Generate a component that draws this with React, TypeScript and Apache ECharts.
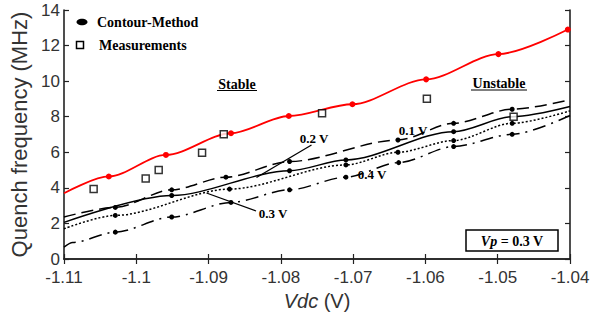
import React, { useEffect, useRef } from "react";
import * as echarts from "echarts";

// Axis ranges and tick labels
const xMin = -1.11;
const xMax = -1.04;
const xStep = 0.01;
const xTickLabels = ["-1.11", "-1.1", "-1.09", "-1.08", "-1.07", "-1.06", "-1.05", "-1.04"];
const yMin = 0;
const yMax = 14;
const yStep = 2;
const yTickLabels = ["0", "2", "4", "6", "8", "10", "12", "14"];

// Stability boundary (contour method, red)
const boundaryVdc = [-1.11, -1.1038, -1.0959, -1.0869, -1.0789, -1.0701, -1.0599, -1.0499, -1.0403];
const boundaryFreq = [3.7, 4.64, 5.85, 7.07, 8.04, 8.7, 10.1, 11.52, 12.9];
const boundaryComputed = [0, 1, 1, 1, 1, 1, 1, 1, 1];

// Measured quench frequencies
const measVdc = [-1.1059, -1.0987, -1.0969, -1.0909, -1.0879, -1.0743, -1.0598, -1.0478];
const measFreq = [3.93, 4.52, 5.01, 5.98, 7.01, 8.19, 9.01, 8.0];

// Contour-method curves for several Vp values
const vdc01 = [-1.11, -1.1029, -1.0951, -1.0876, -1.0788, -1.0638, -1.0561, -1.048, -1.04];
const freq01 = [2.36, 2.9, 3.89, 4.6, 5.48, 6.69, 7.63, 8.42, 8.95];
const computed01 = [0, 1, 1, 1, 1, 1, 1, 1, 0];

const vdc02 = [-1.11, -1.0951, -1.0788, -1.071, -1.0561, -1.048, -1.04];
const freq02 = [2.06, 3.57, 4.96, 5.57, 7.16, 8.0, 8.57];
const computed02 = [0, 1, 1, 1, 1, 0, 0];

const vdc03 = [-1.11, -1.1029, -1.0871, -1.071, -1.0638, -1.0561, -1.048, -1.04];
const freq03 = [1.7, 2.45, 3.93, 5.29, 6.0, 6.66, 7.63, 8.33];
const computed03 = [0, 1, 1, 1, 1, 1, 1, 0];

const vdc04 = [-1.11, -1.1088, -1.1029, -1.0951, -1.0869, -1.0788, -1.071, -1.0637, -1.0561, -1.048, -1.04];
const freq04 = [0.67, 0.93, 1.51, 2.36, 3.18, 3.89, 4.6, 5.42, 6.32, 7.01, 8.07];
const computed04 = [0, 0, 1, 1, 1, 1, 1, 1, 1, 1, 0];

const SERIF = '"Liberation Serif", "Times New Roman", serif';
const SANS = '"Liberation Sans", Arial, sans-serif';

function curveData(xs: number[], ys: number[], flags: number[]) {
  return xs.map((x, i) => ({
    value: [x, ys[i]],
    symbol: flags[i] ? "circle" : "none",
  }));
}

function curveSeries(
  name: string,
  xs: number[],
  ys: number[],
  flags: number[],
  dash: number[] | "solid"
) {
  return {
    name,
    type: "line",
    data: curveData(xs, ys, flags),
    smooth: 0.3,
    smoothMonotone: "x",
    symbolSize: 5,
    itemStyle: { color: "#000" },
    lineStyle: { color: "#000", width: 1.5, type: dash },
    z: 3,
  };
}

function label(text: string, x: number, y: number, size: number, align = "center") {
  return {
    type: "text",
    x,
    y,
    style: { text, font: `bold ${size}px ${SERIF}`, fill: "#000", align, verticalAlign: "middle" },
    z: 10,
  };
}

export default function App() {
  const ref = useRef<HTMLDivElement>(null);

  useEffect(() => {
    if (!ref.current) return;
    const chart = echarts.init(ref.current, null, { renderer: "svg" });

    const xFmt = (v: number) => xTickLabels[Math.round((v - xMin) / xStep)] ?? "";
    const yFmt = (v: number) => yTickLabels[Math.round((v - yMin) / yStep)] ?? "";

    const axisLine = { show: true, lineStyle: { color: "#222", width: 1.6 } };
    const axisTick = { show: true, inside: true, length: 5, lineStyle: { color: "#222", width: 1.2 } };

    chart.setOption({
      animation: false,
      backgroundColor: "#fff",
      grid: { left: 58, top: 10, right: 26, bottom: 70, containLabel: false },
      xAxis: [
        {
          type: "value",
          min: xMin,
          max: xMax,
          interval: xStep,
          axisLine,
          axisTick,
          splitLine: { show: false },
          axisLabel: {
            formatter: xFmt,
            color: "#333",
            fontSize: 17,
            fontFamily: SANS,
            margin: 10,
          },
          name: "{i|Vdc} (V)",
          nameLocation: "middle",
          nameGap: 32,
          nameTextStyle: {
            color: "#333",
            fontSize: 20,
            fontFamily: SANS,
            rich: { i: { fontStyle: "italic", fontSize: 20, fontFamily: SANS, color: "#333" } },
          },
        },
        {
          type: "value",
          position: "top",
          min: xMin,
          max: xMax,
          interval: xStep,
          axisLine,
          axisTick,
          axisLabel: { show: false },
          splitLine: { show: false },
        },
      ],
      yAxis: [
        {
          type: "value",
          min: yMin,
          max: yMax,
          interval: yStep,
          axisLine,
          axisTick,
          splitLine: { show: false },
          axisLabel: {
            formatter: yFmt,
            color: "#333",
            fontSize: 17,
            fontFamily: SANS,
            margin: 4,
          },
          name: "Quench frequency (MHz)",
          nameLocation: "middle",
          nameGap: 34,
          nameTextStyle: { color: "#333", fontSize: 22, fontFamily: SANS },
        },
        {
          type: "value",
          position: "right",
          min: yMin,
          max: yMax,
          interval: yStep,
          axisLine,
          axisTick,
          axisLabel: { show: false },
          splitLine: { show: false },
        },
      ],
      series: [
        {
          name: "Stability boundary",
          type: "line",
          data: curveData(boundaryVdc, boundaryFreq, boundaryComputed),
          smooth: 0.3,
          smoothMonotone: "x",
          symbolSize: 6,
          itemStyle: { color: "#ff0000" },
          lineStyle: { color: "#ff0000", width: 1.8 },
          z: 4,
        },
        curveSeries("0.1 V", vdc01, freq01, computed01, [12, 6]),
        curveSeries("0.2 V", vdc02, freq02, computed02, "solid"),
        curveSeries("0.3 V", vdc03, freq03, computed03, [2, 2]),
        curveSeries("0.4 V", vdc04, freq04, computed04, [13, 6, 2, 6]),
        {
          name: "Measurements",
          type: "scatter",
          data: measVdc.map((x, i) => [x, measFreq[i]]),
          symbol: "rect",
          symbolSize: 7,
          itemStyle: { color: "#fff", borderColor: "#000", borderWidth: 1.5 },
          z: 6,
        },
      ],
      graphic: [
        // legend
        { type: "ellipse", shape: { cx: 82, cy: 22, rx: 5.5, ry: 3.3 }, style: { fill: "#000" }, z: 10 },
        {
          type: "rect",
          shape: { x: 76.5, y: 41.5, width: 7, height: 7 },
          style: { fill: "#fff", stroke: "#000", lineWidth: 1.5 },
          z: 10,
        },
        label("Contour-Method", 97, 22, 14, "left"),
        label("Measurements", 99, 45, 14, "left"),
        // region names
        label("Stable", 237, 84, 14),
        { type: "line", shape: { x1: 217, y1: 90.5, x2: 257, y2: 90.5 }, style: { stroke: "#000", lineWidth: 1 }, z: 10 },
        label("Unstable", 499, 83.5, 14),
        { type: "line", shape: { x1: 471, y1: 90, x2: 527, y2: 90 }, style: { stroke: "#000", lineWidth: 1 }, z: 10 },
        // curve labels
        label("0.2 V", 314, 138, 13),
        { type: "line", shape: { x1: 311.5, y1: 145, x2: 256.5, y2: 177.5 }, style: { stroke: "#000", lineWidth: 1.3 }, z: 10 },
        label("0.1 V", 413, 130, 13),
        label("0.4 V", 372, 174, 13),
        label("0.3 V", 273, 213.5, 13),
        { type: "line", shape: { x1: 206.5, y1: 193, x2: 256, y2: 211 }, style: { stroke: "#000", lineWidth: 1.3 }, z: 10 },
        // Vp box
        {
          type: "rect",
          shape: { x: 466, y: 230, width: 92, height: 21 },
          style: { fill: "#fff", stroke: "#000", lineWidth: 1.5 },
          z: 10,
        },
        {
          type: "text",
          x: 512,
          y: 241,
          style: {
            text: "{i|Vp} = 0.3 V",
            font: `bold 14px ${SERIF}`,
            fill: "#000",
            align: "center",
            verticalAlign: "middle",
            rich: { i: { fontStyle: "italic", fontWeight: "bold", fontSize: 14, fontFamily: SERIF, fill: "#000" } },
          },
          z: 11,
        },
      ],
    });

    return () => chart.dispose();
  }, []);

  return (
    <div
      ref={ref}
      style={{ position: "absolute", left: 0, top: 0, width: 596, height: 329, background: "#fff" }}
    />
  );
}
